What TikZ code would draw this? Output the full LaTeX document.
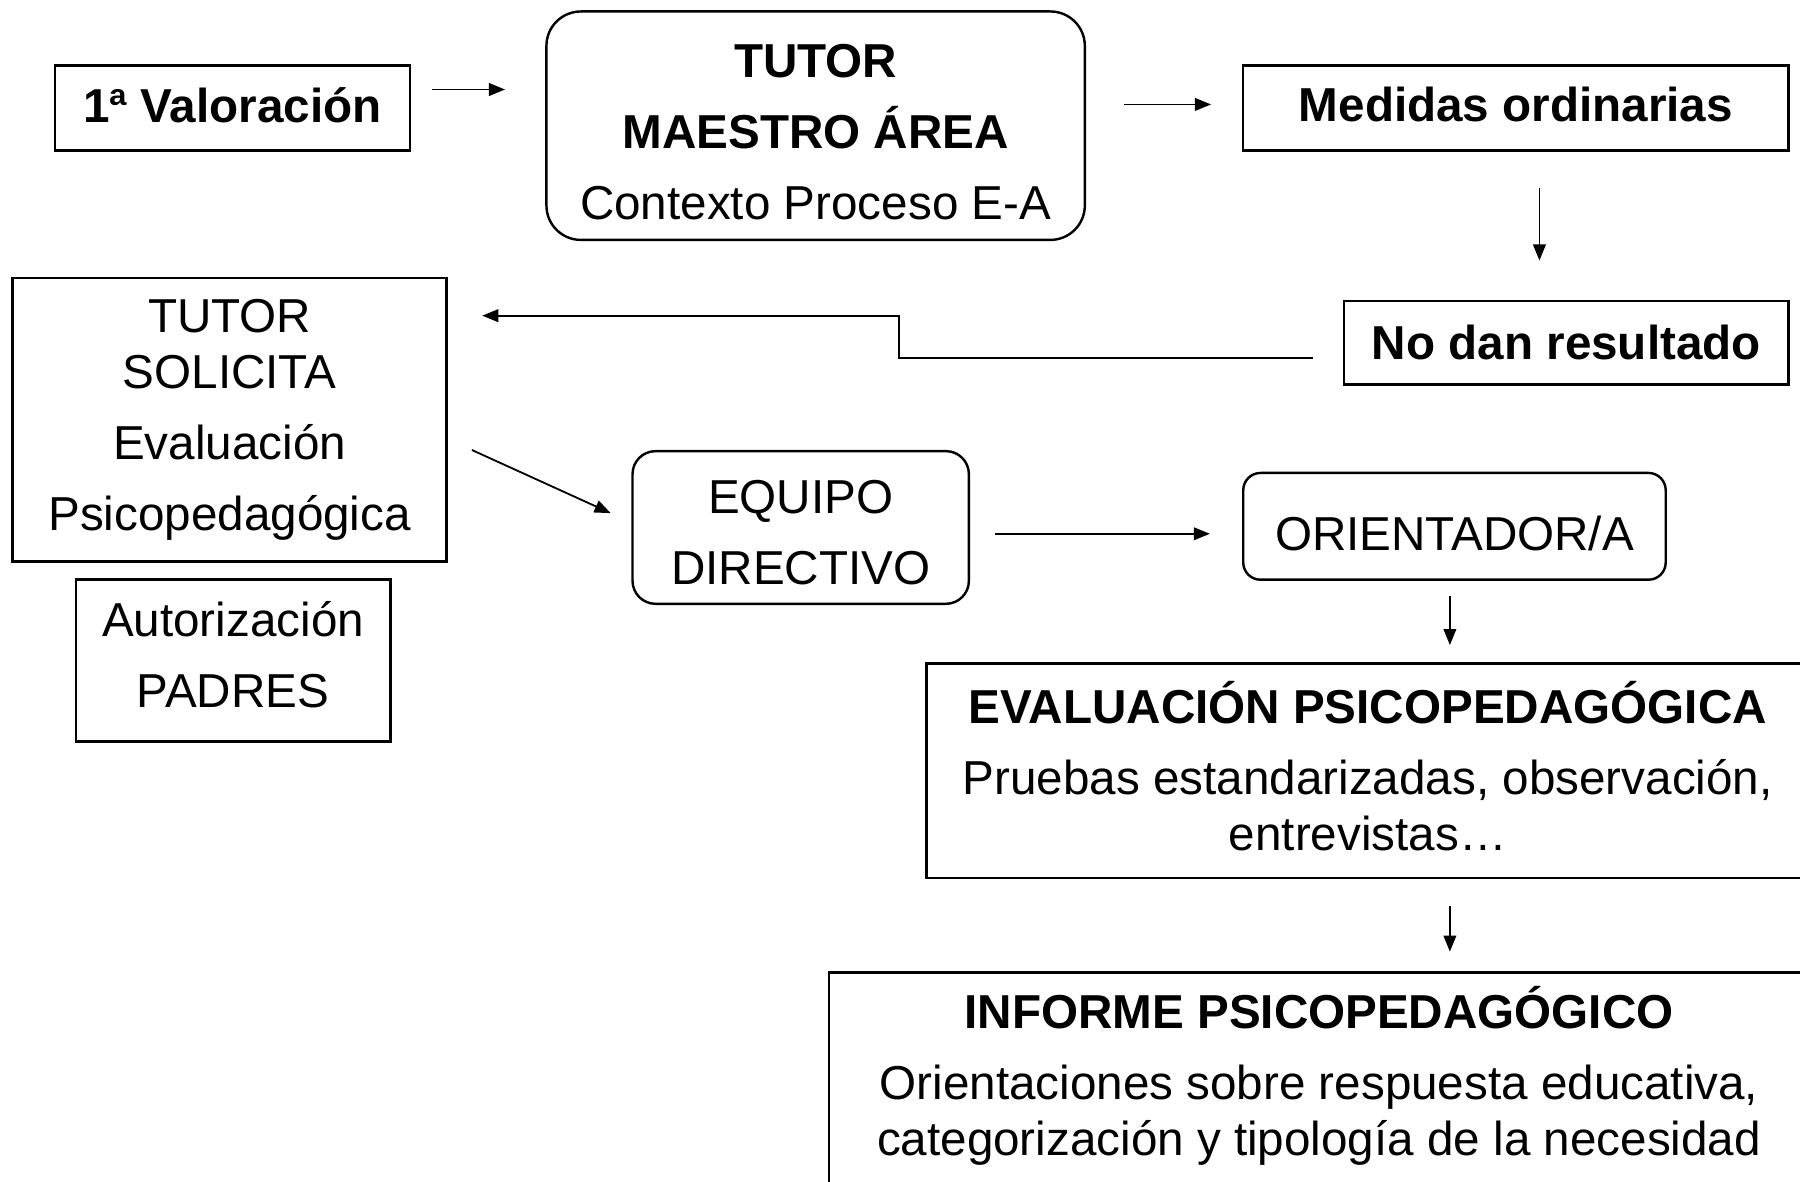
\documentclass[tikz,border=0pt]{standalone}
\usepackage{fontspec}
\setmainfont{Liberation Sans}
\usetikzlibrary{arrows.meta}

\tikzset{
  box/.style={draw, line width=0.6pt, inner sep=0pt, align=center},
  rbox/.style={box, rounded corners=#1},
  arr/.style={-{Triangle[length=0.14cm,width=0.11cm]}, line width=0.45pt},
}

\begin{document}
\begin{tikzpicture}[font=\fontsize{11.8}{13.9}\selectfont]
  \useasboundingbox (0,0) rectangle (15.68,-10.29);

  % top row
  \node[box, minimum width=3.09cm, minimum height=0.74cm] (val) at (2.025,-0.94) {\textbf{1ª Valoración}\rule[-1.6pt]{0pt}{0pt}};
  \node[rbox=0.3cm, minimum width=4.69cm, minimum height=1.99cm] (tutor) at (7.105,-1.095)
    {\rule{0pt}{11.6pt}\textbf{TUTOR}\\[0.13cm] \textbf{MAESTRO ÁREA}\\[0.13cm] Contexto Proceso E-A};
  \node[box, minimum width=4.75cm, minimum height=0.74cm] (medidas) at (13.205,-0.94) {\textbf{Medidas ordinarias}\rule[-1.6pt]{0pt}{0pt}};
  \node[box, minimum width=3.87cm, minimum height=0.73cm] (nodan) at (13.645,-2.985) {\textbf{No dan resultado}};

  % left column
  \node[box, minimum width=3.78cm, minimum height=2.47cm] (solicita) at (2.0,-3.655)
    {TUTOR\\ SOLICITA\\[0.13cm] Evaluación\\[0.13cm] Psicopedagógica};
  \node[box, minimum width=2.74cm, minimum height=1.41cm] (padres) at (2.03,-5.755)
    {Autorización\\[0.13cm] PADRES\rule[-2.9pt]{0pt}{0pt}};

  % middle row
  \node[rbox=0.2cm, minimum width=2.93cm, minimum height=1.33cm] (equipo) at (6.975,-4.595)
    {\rule{0pt}{11pt}EQUIPO\\[0.13cm] DIRECTIVO};
  \node[rbox=0.15cm, minimum width=3.68cm, minimum height=0.93cm] (orient) at (12.67,-4.585) {\rule{0pt}{12.2pt}ORIENTADOR/A};

  % bottom right
  \node[box, minimum width=7.69cm, minimum height=1.87cm] (evalpsico) at (11.915,-6.715)
    {\textbf{EVALUACIÓN PSICOPEDAGÓGICA}\\[0.13cm] Pruebas estandarizadas, observación,\\ entrevistas…\rule[-2.4pt]{0pt}{0pt}};
  \node[box, anchor=north, minimum width=8.54cm, inner ysep=0.12cm, text depth=0.45cm] (informe) at (11.49,-8.46)
    {\textbf{INFORME PSICOPEDAGÓGICO}\\[0.13cm] Orientaciones sobre respuesta educativa,\\ categorización y tipología de la necesidad};

  \coordinate (kink) at (7.83,-2.75);

  % connectors
  \draw[arr, shorten <=0.18cm, shorten >=0.35cm] ([yshift=0.16cm]val.east) -- ([yshift=0.16cm]val.east -| tutor.west);
  \draw[arr, shorten <=0.33cm, shorten >=0.27cm] ([yshift=0.03cm]medidas.west -| tutor.east) -- ([yshift=0.03cm]medidas.west);
  \draw[arr, shorten <=0.32cm, shorten >=0.34cm] ([xshift=0.205cm]medidas.south) -- ([xshift=0.205cm]medidas.south |- nodan.north);
  \draw[arr, shorten >=0.3cm] ([xshift=-0.26cm,yshift=-0.135cm]nodan.west) -| (kink) -- (kink -| solicita.east);
  \draw[arr] ([shift={(0.21cm,-0.265cm)}]solicita.east) -- ([shift={(-0.18cm,0.125cm)}]equipo.west);
  \draw[arr, shorten <=0.22cm, shorten >=0.28cm] ([yshift=-0.055cm]equipo.east) -- ([yshift=-0.055cm]equipo.east -| orient.west);
  \draw[arr, shorten <=0.13cm, shorten >=0.15cm] ([xshift=-0.04cm]orient.south) -- ([xshift=-0.04cm]orient.south |- evalpsico.north);
  \draw[arr, shorten <=0.23cm, shorten >=0.17cm] ([xshift=-0.04cm]orient.south |- evalpsico.south) -- ([xshift=-0.04cm]orient.south |- informe.north);
\end{tikzpicture}
\end{document}
